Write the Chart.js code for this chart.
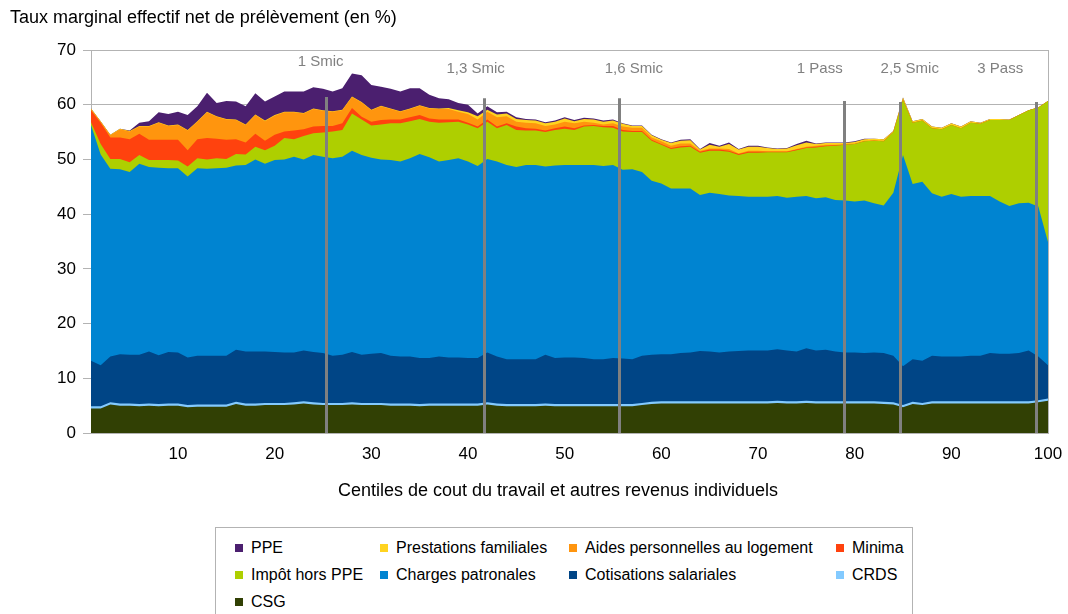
<!DOCTYPE html>
<html>
<head>
<meta charset="utf-8">
<script src="https://cdn.jsdelivr.net/npm/chart.js@4.4.1/dist/chart.umd.min.js"></script>
<style>
  html, body { margin: 0; padding: 0; background: #fff; }
  body { width: 1068px; height: 614px; position: relative; overflow: hidden; font-family: "Liberation Sans", Arial, sans-serif; }
  #wrap { position: absolute; left: 0; top: 0; width: 1068px; height: 520px; }
  #legend { position: absolute; left: 215px; top: 527px; width: 698px; height: 100px; border: 1px solid #b3b3b3; box-sizing: border-box; }
  .item { position: absolute; font-size: 16px; line-height: 18px; color: #000; white-space: nowrap; transform: translateY(-50%); }
  .item i { display: inline-block; width: 8px; height: 8px; margin-right: 8px; vertical-align: 1px; }
</style>
</head>
<body>
<div id="wrap"><canvas id="chart"></canvas></div>
<div id="legend"></div>
<script>
// centiles 1..100 on the x axis
const centiles = Array.from({ length: 100 }, (_, i) => i + 1);
const xTicks = [10, 20, 30, 40, 50, 60, 70, 80, 90, 100];

// one array per component, stacked from the bottom up (values in %)
const csg = [
  4.5, 4.5, 5.2, 5.0, 5.0, 4.9, 5.0, 4.9, 5.0, 5.0,
  4.7, 4.8, 4.8, 4.8, 4.8, 5.3, 5.0, 5.0, 5.1, 5.1,
  5.1, 5.2, 5.4, 5.2, 5.1, 5.1, 5.1, 5.2, 5.1, 5.1,
  5.1, 5.0, 5.0, 5.0, 4.9, 5.0, 5.0, 5.0, 5.0, 5.0,
  5.0, 5.2, 5.0, 4.9, 4.9, 4.9, 4.9, 5.0, 4.9, 4.9,
  4.9, 4.9, 4.9, 4.9, 4.9, 4.9, 4.9, 5.1, 5.3, 5.4,
  5.4, 5.4, 5.4, 5.4, 5.4, 5.4, 5.4, 5.4, 5.4, 5.4,
  5.4, 5.5, 5.4, 5.4, 5.5, 5.4, 5.4, 5.4, 5.4, 5.4,
  5.4, 5.4, 5.3, 5.2, 4.7, 5.3, 5.1, 5.4, 5.4, 5.4,
  5.4, 5.4, 5.4, 5.4, 5.4, 5.4, 5.4, 5.4, 5.6, 5.9
];
const crds = [
  0.4, 0.4, 0.4, 0.4, 0.4, 0.4, 0.4, 0.4, 0.4, 0.4,
  0.4, 0.4, 0.4, 0.4, 0.4, 0.4, 0.4, 0.4, 0.4, 0.4,
  0.4, 0.4, 0.4, 0.4, 0.4, 0.4, 0.4, 0.4, 0.4, 0.4,
  0.4, 0.4, 0.4, 0.4, 0.4, 0.4, 0.4, 0.4, 0.4, 0.4,
  0.4, 0.4, 0.4, 0.4, 0.4, 0.4, 0.4, 0.4, 0.4, 0.4,
  0.4, 0.4, 0.4, 0.4, 0.4, 0.4, 0.4, 0.4, 0.4, 0.4,
  0.4, 0.4, 0.4, 0.4, 0.4, 0.4, 0.4, 0.4, 0.4, 0.4,
  0.4, 0.4, 0.4, 0.4, 0.4, 0.4, 0.4, 0.4, 0.4, 0.4,
  0.4, 0.4, 0.4, 0.4, 0.4, 0.4, 0.4, 0.4, 0.4, 0.4,
  0.4, 0.4, 0.4, 0.4, 0.4, 0.4, 0.4, 0.4, 0.4, 0.4
];
const cotisations = [
  8.3, 7.5, 8.4, 9.0, 8.9, 9.0, 9.5, 8.9, 9.4, 9.3,
  8.7, 8.9, 8.9, 8.9, 8.9, 9.5, 9.5, 9.5, 9.4, 9.3,
  9.2, 9.1, 9.3, 9.2, 9.1, 8.6, 8.8, 9.2, 8.8, 9.0,
  9.1, 8.7, 8.6, 8.6, 8.4, 8.3, 8.6, 8.4, 8.4, 8.3,
  8.3, 9.1, 8.6, 8.2, 8.2, 8.2, 8.2, 8.9, 8.4, 8.5,
  8.5, 8.4, 8.2, 8.2, 8.4, 8.3, 8.2, 8.6, 8.6, 8.6,
  8.6, 8.8, 8.9, 9.2, 9.1, 8.9, 9.1, 9.2, 9.3, 9.3,
  9.3, 9.4, 9.3, 9.1, 9.6, 9.3, 9.4, 9.1, 8.9, 8.9,
  8.8, 8.9, 8.9, 8.5, 7.1, 7.8, 7.7, 8.3, 8.2, 8.2,
  8.2, 8.3, 8.3, 8.8, 8.7, 8.7, 8.8, 9.3, 8.0, 6.1
];
const charges = [
  43.1, 38.5, 34.3, 33.8, 33.4, 34.9, 33.7, 34.3, 33.6, 33.7,
  33.1, 34.3, 34.2, 34.3, 34.4, 33.7, 34.1, 35.1, 34.3, 35.1,
  35.3, 35.8, 34.9, 36.0, 35.9, 36.1, 36.2, 36.8, 36.5, 35.8,
  35.4, 35.8, 35.6, 36.2, 37.3, 36.7, 35.6, 36.1, 36.4, 35.9,
  35.1, 35.4, 35.6, 35.5, 35.1, 35.5, 35.5, 34.4, 35.2, 35.2,
  35.2, 35.3, 35.5, 35.3, 35.3, 34.5, 34.7, 33.6, 31.8, 31.2,
  30.3, 30.1, 30.0, 28.5, 29.0, 29.0, 28.5, 28.3, 28.1, 28.1,
  28.1, 28.0, 27.9, 28.3, 27.8, 27.8, 27.9, 27.7, 27.8, 27.6,
  27.9, 27.3, 27.0, 29.8, 38.6, 32.0, 32.7, 29.7, 29.2, 29.7,
  29.2, 29.2, 29.2, 28.7, 27.8, 27.0, 27.4, 27.0, 27.4, 22.5
];
const impot = [
  0.5, 1.9, 1.8, 1.9, 1.8, 1.6, 1.3, 1.4, 1.5, 1.4,
  1.8, 1.8, 1.7, 1.8, 1.6, 2.1, 1.9, 2.3, 2.5, 2.6,
  3.9, 3.2, 4.3, 4.0, 4.4, 4.9, 4.9, 6.8, 6.5, 5.9,
  6.4, 6.7, 7.0, 6.8, 6.4, 6.5, 7.1, 6.9, 6.7, 6.8,
  6.9, 6.8, 6.1, 7.3, 6.8, 6.3, 6.3, 6.3, 6.5, 6.6,
  6.4, 7.0, 7.1, 7.1, 6.8, 7.0, 6.8, 7.3, 7.3, 7.1,
  7.2, 7.5, 7.6, 7.7, 7.7, 7.9, 8.0, 7.5, 8.0, 8.0,
  8.1, 8.0, 8.3, 8.5, 8.8, 9.3, 9.3, 9.9, 10.2, 10.5,
  10.8, 11.4, 11.7, 11.1, 10.1, 11.2, 11.2, 11.9, 12.3, 12.6,
  12.5, 13.4, 13.2, 13.9, 14.9, 15.7, 16.1, 16.9, 18.1, 25.8
];
const minima = [
  2.2, 3.9, 3.9, 3.9, 4.2, 3.9, 3.7, 3.7, 3.7, 3.8,
  3.0, 3.5, 3.9, 3.6, 3.5, 2.7, 2.2, 2.4, 1.7, 2.0,
  1.2, 1.6, 1.2, 1.2, 1.2, 1.0, 1.2, 1.0, 0.5, 0.7,
  0.8, 0.7, 0.7, 0.7, 0.7, 0.6, 0.6, 0.5, 0.4, 0.3,
  0.3, 0.4, 0.3, 0.3, 0.6, 0.4, 0.3, 0.3, 0.3, 0.4,
  0.3, 0.2, 0.2, 0.2, 0.3, 0.3, 0.2, 0.2, 0.2, 0.1,
  0.2, 0.2, 0.2, 0.2, 0.2, 0.2, 0.2, 0.2, 0.2, 0.2,
  0.1, 0.1, 0.1, 0.1, 0.1, 0.1, 0.1, 0.1, 0, 0,
  0, 0, 0, 0, 0, 0, 0, 0, 0, 0,
  0, 0, 0, 0, 0, 0, 0, 0, 0, 0
];
const aides = [
  0.2, 0.2, 0.4, 1.5, 1.4, 1.3, 2.4, 3.1, 2.5, 2.7,
  3.6, 3.2, 4.7, 4.0, 3.7, 3.5, 3.2, 3.4, 3.6, 3.5,
  3.5, 3.3, 2.9, 3.2, 2.8, 2.6, 2.4, 2.0, 2.6, 2.1,
  2.5, 1.9, 1.4, 1.5, 1.7, 1.8, 1.9, 1.9, 1.4, 1.6,
  1.3, 1.4, 1.7, 1.3, 0.9, 1.0, 1.0, 0.8, 0.7, 0.9,
  0.9, 0.7, 0.4, 0.3, 0.5, 0.6, 0.6, 0.6, 0.4, 0.5,
  0.4, 0.5, 0.4, 0.2, 0.2, 0.2, 0.3, 0.1, 0.2, 0.2,
  0.1, 0.1, 0.1, 0.1, 0.1, 0.2, 0.2, 0.1, 0.1, 0.1,
  0.1, 0.1, 0.1, 0, 0.1, 0, 0, 0, 0, 0,
  0, 0, 0, 0, 0, 0, 0, 0, 0, 0
];
const prestations = [
  0.1, 0.1, 0.1, 0.1, 0.1, 0.1, 0.1, 0.1, 0.1, 0.1,
  0.1, 0.1, 0.1, 0.1, 0.1, 0.1, 0.1, 0.1, 0.1, 0.1,
  0.1, 0.1, 0.1, 0.1, 0.1, 0.1, 0.1, 0.1, 0.1, 0.1,
  0.1, 0.1, 0.1, 0.1, 0.1, 0.1, 0.1, 0.2, 0.3, 0.3,
  0.6, 0.4, 0.5, 0.5, 0.5, 0.5, 0.5, 0.5, 0.5, 0.6,
  0.4, 0.5, 0.6, 0.5, 0.5, 0.5, 0.3, 0.3, 0.4, 0.3,
  0.5, 0.5, 0.6, 0.2, 0.7, 0.3, 0.9, 0.7, 0.7, 0.7,
  0.6, 0.4, 0.5, 0.7, 0.8, 0.3, 0.3, 0.3, 0.2, 0.3,
  0.3, 0.3, 0.3, 0.2, 0.3, 0.3, 0.3, 0.3, 0.3, 0.3,
  0.3, 0.3, 0.2, 0.2, 0.2, 0.1, 0, 0, 0, 0
];
const ppe = [
  0, 0, 0, 0, 0.1, 0.6, 0.9, 1.8, 2.1, 2.3,
  2.7, 2.7, 3.5, 2.4, 3.3, 3.3, 3.3, 3.9, 3.5, 3.4,
  3.7, 3.7, 3.9, 3.9, 3.9, 3.6, 3.9, 4.2, 4.9, 4.5,
  3.5, 3.6, 3.6, 3.7, 3.1, 2.4, 1.9, 1.6, 1.3, 1.4,
  0.5, 0.6, 0.4, 0.3, 0.3, 0.2, 0.2, 0.2, 0.2, 0.2,
  0.2, 0.2, 0.2, 0.2, 0.2, 0.1, 0.1, 0.1, 0.1, 0.1,
  0.1, 0.2, 0.2, 0.1, 0.3, 0.2, 0.3, 0.1, 0.2, 0.2,
  0.1, 0.1, 0.1, 0.2, 0.3, 0.1, 0.1, 0.1, 0.1, 0.1,
  0.1, 0, 0, 0, 0, 0, 0, 0, 0, 0,
  0, 0, 0, 0, 0, 0, 0, 0, 0, 0
];

// reference thresholds drawn as vertical bars
const markerNames = ['1 Smic', '1,3 Smic', '1,6 Smic', '1 Pass', '2,5 Smic', '3 Pass'];
const markerX = [25.34, 41.7, 55.66, 78.93, 84.72, 98.79];
const markerTop = [61.4, 61.2, 61.2, 60.7, 60.5, 60.5];
const markerLabelX = [24.76, 40.79, 57.16, 76.39, 85.7, 95.06];
const markerLabelY = [67.8, 66.6, 66.6, 66.6, 66.6, 66.6];

const series = [
  { label: 'CSG', data: csg, color: '#314004' },
  { label: 'CRDS', data: crds, color: '#83caff' },
  { label: 'Cotisations salariales', data: cotisations, color: '#004586' },
  { label: 'Charges patronales', data: charges, color: '#0084d1' },
  { label: 'Impôt hors PPE', data: impot, color: '#aecf00' },
  { label: 'Minima', data: minima, color: '#ff420e' },
  { label: 'Aides personnelles au logement', data: aides, color: '#ff950e' },
  { label: 'Prestations familiales', data: prestations, color: '#ffd320' },
  { label: 'PPE', data: ppe, color: '#4b1f6f' }
];

const gridGrey = '#b3b3b3';
const font = '"Liberation Sans", Arial, sans-serif';

// lower layers are painted last, so each one simply fills down to zero
const datasets = series.map(s => ({
  label: s.label,
  data: s.data,
  backgroundColor: s.color,
  borderColor: 'rgba(0,0,0,0)',
  borderWidth: 0,
  pointRadius: 0,
  tension: 0,
  fill: 'origin'
}));

const frame = {
  id: 'frame',
  beforeDatasetsDraw(chart) {
    const { ctx, chartArea } = chart;
    ctx.save();
    ctx.strokeStyle = gridGrey;
    ctx.lineWidth = 1;
    ctx.beginPath();
    ctx.moveTo(Math.round(chartArea.right) + 0.5, chartArea.top);
    ctx.lineTo(Math.round(chartArea.right) + 0.5, chartArea.bottom);
    ctx.stroke();
    ctx.restore();
  }
};

const markers = {
  id: 'markers',
  afterDatasetsDraw(chart) {
    const { ctx } = chart;
    const xs = chart.scales.x, ys = chart.scales.y;
    ctx.save();
    ctx.strokeStyle = '#808080';
    ctx.lineWidth = 3;
    markerX.forEach((v, i) => {
      const px = Math.round(xs.getPixelForValue(v)) + 0.5;
      ctx.beginPath();
      ctx.moveTo(px, ys.getPixelForValue(markerTop[i]));
      ctx.lineTo(px, ys.getPixelForValue(0));
      ctx.stroke();
    });
    ctx.fillStyle = '#808080';
    ctx.font = '15px ' + font;
    ctx.textAlign = 'center';
    ctx.textBaseline = 'middle';
    markerNames.forEach((name, i) => {
      ctx.fillText(name, xs.getPixelForValue(markerLabelX[i]), ys.getPixelForValue(markerLabelY[i]));
    });
    ctx.restore();
  }
};

const captions = {
  id: 'captions',
  afterDraw(chart) {
    const { ctx } = chart;
    ctx.save();
    ctx.fillStyle = '#000';
    ctx.textBaseline = 'middle';
    ctx.font = '18px ' + font;
    ctx.textAlign = 'left';
    ctx.fillText('Taux marginal effectif net de prélèvement (en %)', 10, 18);
    ctx.textAlign = 'center';
    ctx.fillText('Centiles de cout du travail et autres revenus individuels', 558, 491);
    ctx.restore();
  }
};

new Chart(document.getElementById('chart'), {
  type: 'line',
  data: { labels: centiles, datasets },
  options: {
    responsive: true,
    maintainAspectRatio: false,
    animation: false,
    layout: { padding: { left: 0, right: 20, top: 50, bottom: 0 } },
    plugins: { legend: { display: false }, tooltip: { enabled: false }, title: { display: false } },
    scales: {
      x: {
        type: 'linear',
        min: 1,
        max: 100,
        afterBuildTicks: axis => { axis.ticks = xTicks.map(v => ({ value: v })); },
        afterFit: axis => { axis.height = 87; },
        grid: { display: false, drawTicks: true, tickLength: 8 },
        border: { display: true, color: gridGrey },
        ticks: { color: '#000', font: { family: font, size: 17 }, padding: 3, maxRotation: 0 }
      },
      y: {
        stacked: true,
        min: 0,
        max: 70,
        afterFit: axis => { axis.width = 91; },
        grid: { color: gridGrey, tickLength: 8 },
        border: { display: true, color: gridGrey },
        ticks: { stepSize: 10, color: '#000', font: { family: font, size: 17 }, padding: 7 }
      }
    }
  },
  plugins: [frame, markers, captions]
});

// legend: four columns, same order as the stack read from the top
const legendCols = [19, 164, 353, 620];
const legendRows = [20, 47, 74];
const legendEl = document.getElementById('legend');
series.slice().reverse().forEach((s, i) => {
  const el = document.createElement('div');
  el.className = 'item';
  el.style.left = legendCols[i % 4] + 'px';
  el.style.top = legendRows[Math.floor(i / 4)] + 'px';
  el.innerHTML = '<i style="background:' + s.color + '"></i>' + s.label;
  legendEl.appendChild(el);
});
</script>
</body>
</html>
